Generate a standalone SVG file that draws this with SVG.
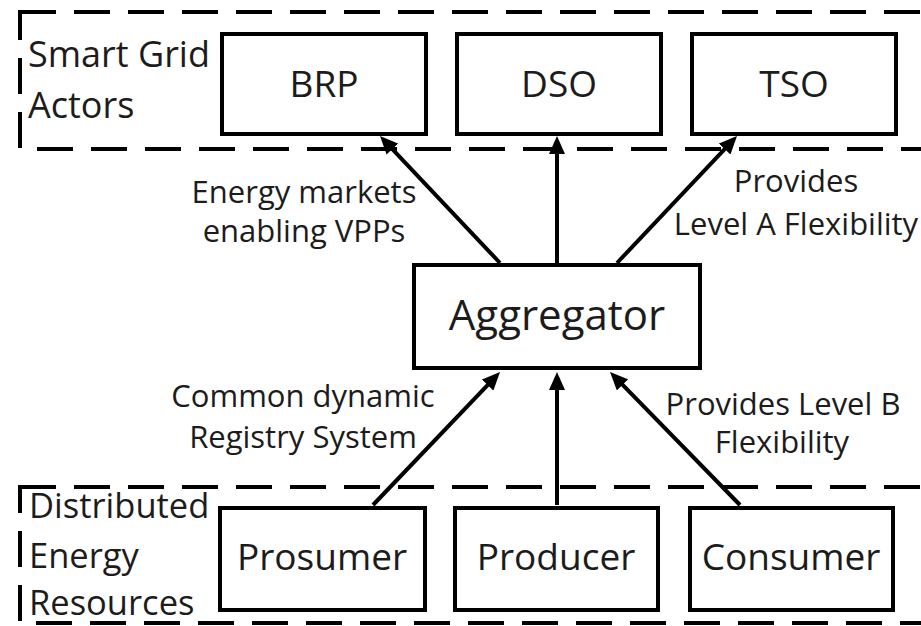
<svg xmlns="http://www.w3.org/2000/svg" width="921" height="626" viewBox="0 0 921 626">
  <defs>
    <marker id="head" markerUnits="userSpaceOnUse" markerWidth="18" markerHeight="16" viewBox="0 0 18 16" refX="10" refY="8" orient="auto">
      <path d="M0,0 L18,8 L0,16 z" fill="#000"/>
    </marker>
    <style>
      .zone { fill: none; stroke: #000; stroke-width: 4; stroke-dasharray: 36 18; }
      .box { fill: #fff; stroke: #000; stroke-width: 4; }
      .t { font-family: "Open Sans", "Noto Sans", sans-serif; fill: #1c1c1c; }
      .zlabel { font-size: 36px; }
      .zlabel2 { font-size: 34.5px; }
      .blabel { font-size: 37px; text-anchor: middle; }
      .agg { font-size: 42px; text-anchor: middle; }
      .elabel { font-size: 31px; text-anchor: middle; }
      .conn { stroke: #000; stroke-width: 4; fill: none; marker-end: url(#head); }
    </style>
  </defs>
  <rect width="921" height="626" fill="#fff"/>

  <!-- dashed zones -->
  <g id="zone-actors">
    <rect class="zone" x="20" y="12" width="930" height="137"/>
    <text class="t zlabel" x="28" y="67">Smart Grid</text>
    <text class="t zlabel" x="28" y="118">Actors</text>
  </g>
  <g id="zone-der">
    <rect class="zone" x="20" y="487" width="930" height="136"/>
    <text class="t zlabel2" x="29" y="518">Distributed</text>
    <text class="t zlabel2" x="29" y="568">Energy</text>
    <text class="t zlabel2" x="29" y="615">Resources</text>
  </g>

  <!-- connectors -->
  <g id="connectors">
    <line class="conn" x1="500" y1="263" x2="385.5" y2="141.8"/>
    <line class="conn" x1="557" y1="263" x2="557" y2="144"/>
    <line class="conn" x1="617" y1="263" x2="731.5" y2="141.8"/>
    <line class="conn" x1="373" y1="505" x2="494.5" y2="377.8"/>
    <line class="conn" x1="557" y1="505" x2="557" y2="380"/>
    <line class="conn" x1="740" y1="505" x2="615.6" y2="377.7"/>
    <text class="t elabel" x="304" y="203">Energy markets</text>
    <text class="t elabel" x="304" y="242">enabling VPPs</text>
    <text class="t elabel" x="796" y="192">Provides</text>
    <text class="t elabel" x="796" y="235">Level A Flexibility</text>
    <text class="t elabel" x="303" y="407">Common dynamic</text>
    <text class="t elabel" x="303" y="448">Registry System</text>
    <text class="t elabel" x="783" y="415">Provides Level B</text>
    <text class="t elabel" x="782" y="453">Flexibility</text>
  </g>

  <!-- actor nodes -->
  <g id="brp">
    <rect class="box" x="222" y="34" width="204" height="100"/>
    <text class="t blabel" x="324" y="97">BRP</text>
  </g>
  <g id="dso">
    <rect class="box" x="457" y="34" width="204" height="100"/>
    <text class="t blabel" x="559" y="97">DSO</text>
  </g>
  <g id="tso">
    <rect class="box" x="692" y="34" width="204" height="100"/>
    <text class="t blabel" x="794" y="97">TSO</text>
  </g>

  <!-- aggregator -->
  <g id="aggregator">
    <rect class="box" x="414" y="265" width="286" height="103"/>
    <text class="t agg" x="557" y="330">Aggregator</text>
  </g>

  <!-- resource nodes -->
  <g id="prosumer">
    <rect class="box" x="220" y="508" width="205" height="102"/>
    <text class="t blabel" x="322" y="570">Prosumer</text>
  </g>
  <g id="producer">
    <rect class="box" x="455" y="508" width="203" height="102"/>
    <text class="t blabel" x="556" y="570">Producer</text>
  </g>
  <g id="consumer">
    <rect class="box" x="690" y="508" width="203" height="102"/>
    <text class="t blabel" x="791" y="570">Consumer</text>
  </g>
</svg>
